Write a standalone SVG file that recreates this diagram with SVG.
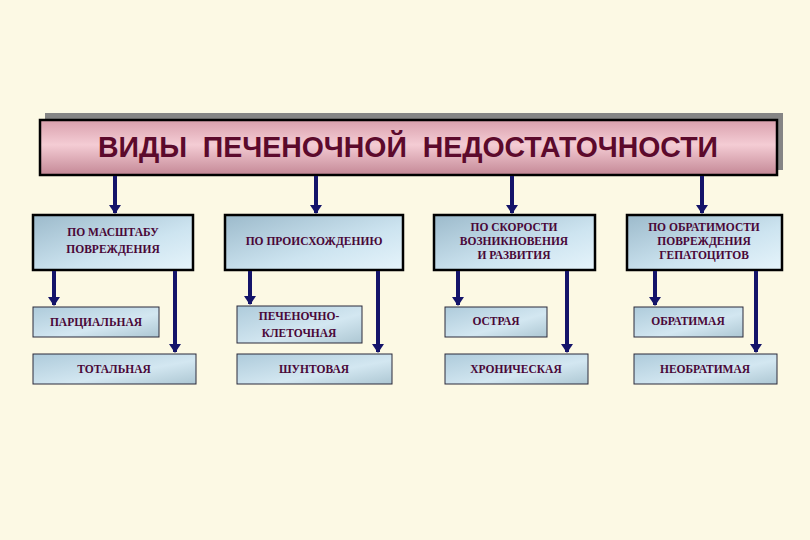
<svg xmlns="http://www.w3.org/2000/svg" width="810" height="540" viewBox="0 0 810 540">
<defs>
<linearGradient id="pink" x1="0" y1="0" x2="0" y2="1">
<stop offset="0" stop-color="#d9a0ad"/>
<stop offset="0.45" stop-color="#f4ccd4"/>
<stop offset="1" stop-color="#c48896"/>
</linearGradient>
<linearGradient id="blue" x1="0" y1="0" x2="1" y2="1">
<stop offset="0" stop-color="#9cbacb"/>
<stop offset="0.6" stop-color="#cde4f0"/>
<stop offset="1" stop-color="#e6f4fb"/>
</linearGradient>
<linearGradient id="blue2" x1="0" y1="0" x2="1" y2="1">
<stop offset="0" stop-color="#aecbdb"/>
<stop offset="0.6" stop-color="#d3e7f1"/>
<stop offset="1" stop-color="#adc7d3"/>
</linearGradient>
<marker id="ah" markerWidth="10" markerHeight="12" refX="8" refY="6" orient="auto" markerUnits="userSpaceOnUse">
<path d="M0,0 L9,6 L0,12 Z" fill="#14146a"/>
</marker>
<style>
.bg{fill:#fcf9e4}
.cat{fill:url(#blue);stroke:#000;stroke-width:2.5}
.sub{fill:url(#blue2);stroke:#2a2a3a;stroke-width:1}
.t{font-family:"Liberation Serif","Times New Roman",serif;font-weight:bold;font-size:11.5px;fill:#4a0838;text-anchor:middle}
.title{font-family:"Liberation Sans",Arial,sans-serif;font-weight:bold;font-size:29px;fill:#5c0a2c;text-anchor:middle;white-space:pre}
.c line{stroke:#14146a;stroke-width:4;marker-end:url(#ah)}
</style>
</defs>
<rect class="bg" x="0" y="0" width="810" height="540"/>

<g id="title">
<rect x="45" y="113" width="738" height="57" fill="#858585"/>
<rect x="40" y="120" width="737" height="55" fill="url(#pink)" stroke="#000" stroke-width="2.5"/>
<text class="title" x="408" y="157" textLength="620" lengthAdjust="spacingAndGlyphs" xml:space="preserve">ВИДЫ  ПЕЧЕНОЧНОЙ  НЕДОСТАТОЧНОСТИ</text>
</g>

<g id="cat1">
<rect class="cat" x="33" y="215" width="160" height="55"/>
<text class="t" x="113" y="236">ПО МАСШТАБУ</text>
<text class="t" x="113" y="253">ПОВРЕЖДЕНИЯ</text>
</g>
<g id="cat2">
<rect class="cat" x="225" y="215" width="178" height="55"/>
<text class="t" x="314" y="245">ПО ПРОИСХОЖДЕНИЮ</text>
</g>
<g id="cat3">
<rect class="cat" x="434" y="215" width="161" height="55"/>
<text class="t" x="514" y="231">ПО СКОРОСТИ</text>
<text class="t" x="514" y="245">ВОЗНИКНОВЕНИЯ</text>
<text class="t" x="514" y="259">И РАЗВИТИЯ</text>
</g>
<g id="cat4">
<rect class="cat" x="627" y="215" width="155" height="55"/>
<text class="t" x="704" y="231">ПО ОБРАТИМОСТИ</text>
<text class="t" x="704" y="245">ПОВРЕЖДЕНИЯ</text>
<text class="t" x="704" y="259">ГЕПАТОЦИТОВ</text>
</g>

<g id="partial">
<rect class="sub" x="33" y="307" width="126" height="30"/>
<text class="t" x="96" y="326">ПАРЦИАЛЬНАЯ</text>
</g>
<g id="total">
<rect class="sub" x="33" y="354" width="163" height="30"/>
<text class="t" x="114" y="373">ТОТАЛЬНАЯ</text>
</g>
<g id="hepatocellular">
<rect class="sub" x="237" y="306" width="125" height="37"/>
<text class="t" x="299" y="320">ПЕЧЕНОЧНО-</text>
<text class="t" x="299" y="337">КЛЕТОЧНАЯ</text>
</g>
<g id="shunt">
<rect class="sub" x="237" y="354" width="155" height="30"/>
<text class="t" x="314" y="373">ШУНТОВАЯ</text>
</g>
<g id="acute">
<rect class="sub" x="445" y="307" width="102" height="30"/>
<text class="t" x="496" y="325">ОСТРАЯ</text>
</g>
<g id="chronic">
<rect class="sub" x="445" y="354" width="143" height="30"/>
<text class="t" x="516" y="373">ХРОНИЧЕСКАЯ</text>
</g>
<g id="reversible">
<rect class="sub" x="634" y="307" width="109" height="30"/>
<text class="t" x="688" y="325">ОБРАТИМАЯ</text>
</g>
<g id="irreversible">
<rect class="sub" x="634" y="354" width="143" height="30"/>
<text class="t" x="705" y="373">НЕОБРАТИМАЯ</text>
</g>

<g id="connectors" class="c">
<line x1="115" y1="176" x2="115" y2="213"/>
<line x1="316" y1="176" x2="316" y2="213"/>
<line x1="512" y1="176" x2="512" y2="213"/>
<line x1="702" y1="176" x2="702" y2="213"/>
<line x1="54" y1="271" x2="54" y2="305"/>
<line x1="175" y1="271" x2="175" y2="352"/>
<line x1="250" y1="271" x2="250" y2="304"/>
<line x1="378" y1="271" x2="378" y2="352"/>
<line x1="458" y1="271" x2="458" y2="305"/>
<line x1="567" y1="271" x2="567" y2="352"/>
<line x1="655" y1="271" x2="655" y2="305"/>
<line x1="756" y1="271" x2="756" y2="352"/>
</g>
</svg>
